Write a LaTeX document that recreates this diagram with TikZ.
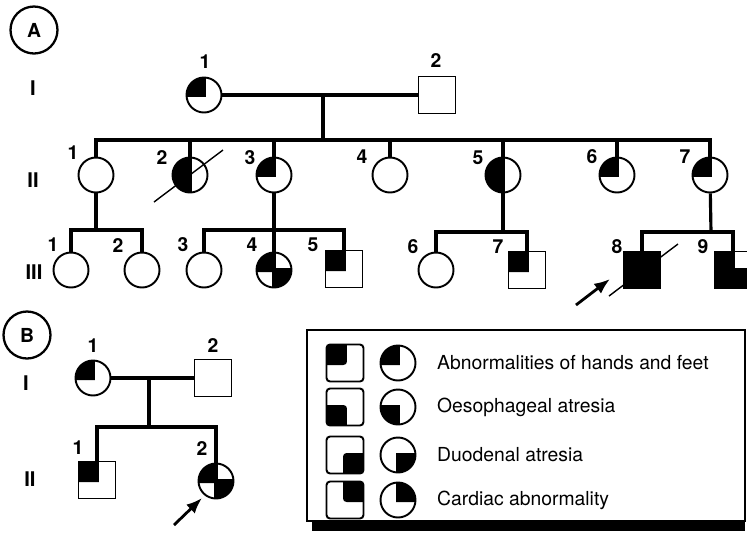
\documentclass[tikz,border=0pt]{standalone}
\usepackage{fontspec}
\setmainfont{TeX Gyre Heros}
\usetikzlibrary{arrows.meta,positioning}

\tikzset{
fem/.style={circle,draw,line width=1.1pt,minimum size=0.7cm,inner sep=0pt},
mal/.style={rectangle,draw,line width=1.1pt,minimum size=0.74cm,inner sep=0pt},
qd/.style={path picture={\foreach \qa in {#1} {\fill (path picture bounding box.center) ++(\qa-135:1.6pt) -- ++(\qa:1cm) arc[start angle=\qa,delta angle=90,radius=1cm] -- cycle;}}},
ring/.style={circle,draw,line width=1.3pt,minimum size=0.94cm,inner sep=0pt,font=\bfseries\fontsize{11}{13}\selectfont},
pline/.style={line width=1.8pt},
num/.style={font=\bfseries\fontsize{11}{13}\selectfont},
gen/.style={font=\bfseries\fontsize{11.5}{13}\selectfont},
txt/.style={font=\fontsize{11}{13}\selectfont},
dead/.style={line width=0.8pt},
proband/.style={line width=1.6pt,-{Latex[length=9pt,width=7pt]}}
}

\begin{document}
\begin{tikzpicture}[x=0.02cm,y=0.02cm]
\useasboundingbox (0,0) rectangle (747,-539);

% pedigree A
\node[ring] (pa) at (34,-30) {A};
\foreach \g/\x/\y in {I/33/88,II/33/180,III/34/272} {
\node[gen] (ga\g) at (\x,-\y) {\g};
}

\node[fem,qd=90] (a1) at (204,-95) {};
\node[mal] (a2) at (437,-95) {};

\node[fem] (b1) at (96,-175) {};
\node[fem,qd={90,180}] (b2) at (190,-175) {};
\node[fem,qd=90] (b3) at (274,-175) {};
\node[fem] (b4) at (390,-175) {};
\node[fem,qd={90,180}] (b5) at (503,-175) {};
\node[fem,qd=90] (b6) at (617,-175) {};
\node[fem,qd=90] (b7) at (710,-175) {};

\node[fem] (c1) at (71,-270) {};
\node[fem] (c2) at (142,-270) {};
\node[fem] (c3) at (204,-270) {};
\node[fem,qd={90,270}] (c4) at (274,-270) {};
\node[mal,qd=90] (c5) at (344,-269) {};
\node[fem] (c6) at (436,-270) {};
\node[mal,qd=90] (c7) at (527,-270) {};
\node[mal,fill=black] (c8) at (642,-270) {};
\node[mal,qd={90,180,270}] (c9) at (733,-270) {};

\foreach \n/\x/\y/\t in {la1/205/62/1,la2/436/60/2,
  lb1/73/153/1,lb2/162/157/2,lb3/250/158/3,lb4/362/157/4,lb5/478/158/5,lb6/592/157/6,lb7/685/157/7,
  lc1/53/245/1,lc2/118/245/2,lc3/183/245/3,lc4/252/245/4,lc5/313/245/5,lc6/413/247/6,lc7/498/247/7,lc8/617/247/8,lc9/703/247/9} {
\node[num] (\n) at (\x,-\y) {\t};
}

\coordinate (ma) at (323,-95);
\coordinate (sa) at (323,-140);
\draw[pline] (a1) -- (a2);
\draw[pline] (ma) -- (sa);
\draw[pline] (b1) |- (sa) -| (b7);
\foreach \n in {b2,b3,b4,b5,b6} {
\draw[pline] (sa -| \n) -- (\n);
}

\coordinate (s1) at (96,-230);
\coordinate (s2) at (274,-230);
\coordinate (s3) at (503,-232);
\coordinate (s4) at (711,-232);
\draw[pline] (b1) -- (s1);
\draw[pline] (c1) |- (s1) -| (c2);
\draw[pline] (b3) -- (c4);
\draw[pline] (c3) |- (s2) -| (c5);
\draw[pline] (b5) -- (s3);
\draw[pline] (c6) |- (s3) -| (c7);
\draw[pline] (b7) -- (s4);
\draw[pline] (c8) |- (s4) -| (c9);

\draw[dead] ([shift={(-36,-27)}]b2.center) -- ([shift={(33,25)}]b2.center);
\draw[dead] ([shift={(-33,-26)}]c8.center) -- ([shift={(36,26)}]c8.center);

\coordinate (pr1) at (576,-305);
\coordinate (pt1) at (610,-279);
\draw[proband] (pr1) -- (pt1);

% pedigree B
\node[ring] (pb) at (27,-335) {B};
\foreach \g/\x/\y in {I/26/383,II/30/479} {
\node[gen] (gb\g) at (\x,-\y) {\g};
}

\node[fem,qd=90] (d1) at (93,-378) {};
\node[mal] (d2) at (213,-378) {};
\node[mal,qd=90] (e1) at (97,-480) {};
\node[fem,qd={90,270}] (e2) at (216,-481) {};

\foreach \n/\x/\y/\t in {ld1/93/346/1,ld2/213/345/2,le1/78/448/1,le2/202/448/2} {
\node[num] (\n) at (\x,-\y) {\t};
}

\coordinate (mb) at (149,-378);
\coordinate (sb) at (149,-427);
\draw[pline] (d1) -- (d2);
\draw[pline] (mb) -- (sb);
\draw[pline] (e1) |- (sb) -| (e2);

\coordinate (pr2) at (174,-525);
\coordinate (pt2) at (202,-498);
\draw[proband] (pr2) -- (pt2);

% key
\draw[line width=1.1pt] (307,-330) rectangle (745,-521);
\fill (312,-521) rectangle (745,-531);
\foreach \i/\ang/\y/\t in {1/90/363/Abnormalities of hands and feet,2/180/407/Oesophageal atresia,3/270/455/Duodenal atresia,4/0/500/Cardiac abnormality} {
\node[mal,rounded corners=2pt,qd=\ang] (ks\i) at (345,-\y) {};
\node[fem,qd=\ang] (kc\i) at (398,-\y) {};
\node[txt,anchor=west] (kt\i) at (431,-\y) {\t};
}
\end{tikzpicture}
\end{document}
